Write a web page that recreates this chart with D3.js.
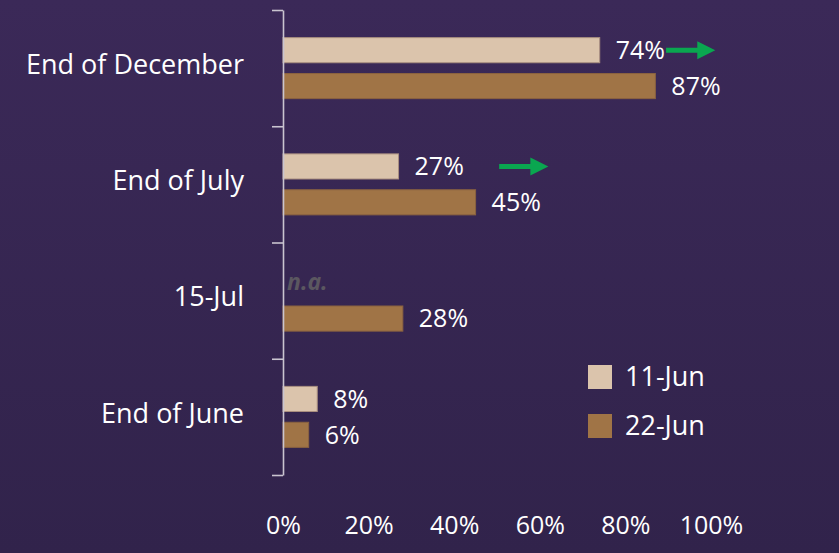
<!DOCTYPE html>
<html>
<head>
<meta charset="utf-8">
<script src="https://cdn.jsdelivr.net/npm/d3@7"></script>
<style>
  html, body { margin: 0; padding: 0; }
  body { width: 839px; height: 553px; overflow: hidden;
         background: linear-gradient(to bottom, #3b2958, #31234b); }
  svg text { font-family: "Open Sans", "Noto Sans", sans-serif; fill: #ffffff; }
</style>
</head>
<body>
<div id="chart"></div>
<script>
// data
let categories = ["End of December", "End of July", "15-Jul", "End of June"]
let series = ["11-Jun", "22-Jun"]
let jun11 = [74, 27, null, 8]
let jun22 = [87, 45, 28, 6]
let xTicks = [0, 20, 40, 60, 80, 100]
// green arrows (start, end in % units) next to the 11-Jun bars
let arrowCats = ["End of December", "End of July"]
let arrowFrom = [89.5, 50.5]
let arrowTo = [101, 62]

let colors = ["#dbc4ac", "#a07446"]
let strokes = ["#a98f80", "#8a6240"]

let width = 839, height = 553

let svg = d3.select("#chart").append("svg")
    .attr("width", width)
    .attr("height", height)

let x = d3.scaleLinear().domain([0, 100]).range([283, 711])
let y = d3.scaleBand().domain(categories).range([10, 475])
let y1 = d3.scaleBand().domain(series).range([0, y.bandwidth()])
    .paddingInner(0.3).paddingOuter(0.77)

let rows = categories.map(function (c, i) {
    return {cat: c, vals: [jun11[i], jun22[i]]}
})

// bars
let groups = svg.selectAll("g.row")
    .data(rows)
    .enter().append("g")
    .attr("class", "row")
    .attr("transform", function (d) { return "translate(0," + y(d.cat) + ")" })

groups.selectAll("rect")
    .data(function (d) { return d.vals.map(function (v, j) { return {s: series[j], v: v, j: j} }) })
    .enter().filter(function (d) { return d.v != null })
    .append("rect")
    .attr("x", x(0))
    .attr("y", function (d) { return y1(d.s) })
    .attr("width", function (d) { return x(d.v) - x(0) })
    .attr("height", y1.bandwidth())
    .attr("fill", function (d) { return colors[d.j] })
    .attr("stroke", function (d) { return strokes[d.j] })
    .attr("stroke-width", 1)

// value labels
groups.selectAll("text.val")
    .data(function (d) { return d.vals.map(function (v, j) { return {s: series[j], v: v, j: j} }) })
    .enter().filter(function (d) { return d.v != null })
    .append("text")
    .attr("class", "val")
    .attr("x", function (d) { return x(d.v) + 16 })
    .attr("y", function (d) { return y1(d.s) + y1.bandwidth() / 2 })
    .attr("dy", "0.35em")
    .style("font-size", "25px")
    .text(function (d) { return d.v + "%" })

// n.a. for missing values
groups.selectAll("text.na")
    .data(function (d) { return d.vals.map(function (v, j) { return {s: series[j], v: v} }).filter(function (d) { return d.v == null }) })
    .enter().append("text")
    .attr("class", "na")
    .attr("x", x(0) + 4)
    .attr("y", function (d) { return y1(d.s) + y1.bandwidth() / 2 })
    .attr("dy", "0.3em")
    .style("font-size", "23px")
    .style("font-style", "italic")
    .style("font-weight", "bold")
    .style("fill", "#5b5760")
    .text("n.a.")

// green arrows
arrowCats.forEach(function (c, i) {
    let cy = y(c) + y1(series[0]) + y1.bandwidth() / 2
    let x0 = x(arrowFrom[i]), x1 = x(arrowTo[i]), hl = 18
    svg.append("path")
        .attr("d", "M" + x0 + "," + (cy - 2.5) + "H" + (x1 - hl) + "V" + (cy - 9) +
            "L" + x1 + "," + cy + "L" + (x1 - hl) + "," + (cy + 9) + "V" + (cy + 2.5) +
            "H" + x0 + "Z")
        .attr("fill", "#0aa650")
})

// vertical axis with ticks between categories
let yb = d3.scaleLinear().domain([0, categories.length]).range([10, 475])
let yAxis = svg.append("g")
    .attr("transform", "translate(" + x(0) + ",0)")
    .call(d3.axisLeft(yb).tickValues(d3.range(categories.length + 1))
        .tickFormat("").tickSize(11).tickSizeOuter(0))
yAxis.selectAll("path, line").attr("stroke", "#c9c4cf").attr("stroke-width", 1.6)

// category labels
let catAxis = svg.append("g")
    .attr("transform", "translate(244,-3)")
    .call(d3.axisLeft(y).tickSize(0).tickPadding(0))
catAxis.select(".domain").remove()
catAxis.selectAll("text")
    .attr("fill", "#ffffff")
    .style("font-size", "27px")
    .style("font-family", "'Open Sans', 'Noto Sans', sans-serif")

// bottom tick labels
let xAxis = svg.append("g")
    .attr("transform", "translate(0,525)")
    .call(d3.axisBottom(x).tickValues(xTicks).tickSize(0).tickPadding(0)
        .tickFormat(function (d) { return d + "%" }))
xAxis.select(".domain").remove()
xAxis.selectAll("text")
    .attr("dy", "0.35em")
    .attr("fill", "#ffffff")
    .style("font-size", "25px")
    .style("font-family", "'Open Sans', 'Noto Sans', sans-serif")

// legend
let legend = svg.selectAll("g.legend")
    .data(series)
    .enter().append("g")
    .attr("class", "legend")
    .attr("transform", function (d, i) { return "translate(588," + (365 + i * 49) + ")" })
legend.append("rect")
    .attr("width", 24).attr("height", 24)
    .attr("fill", function (d, i) { return colors[i] })
legend.append("text")
    .attr("x", 37).attr("y", 12).attr("dy", "0.35em")
    .style("font-size", "27px")
    .text(function (d) { return d })
</script>
</body>
</html>
